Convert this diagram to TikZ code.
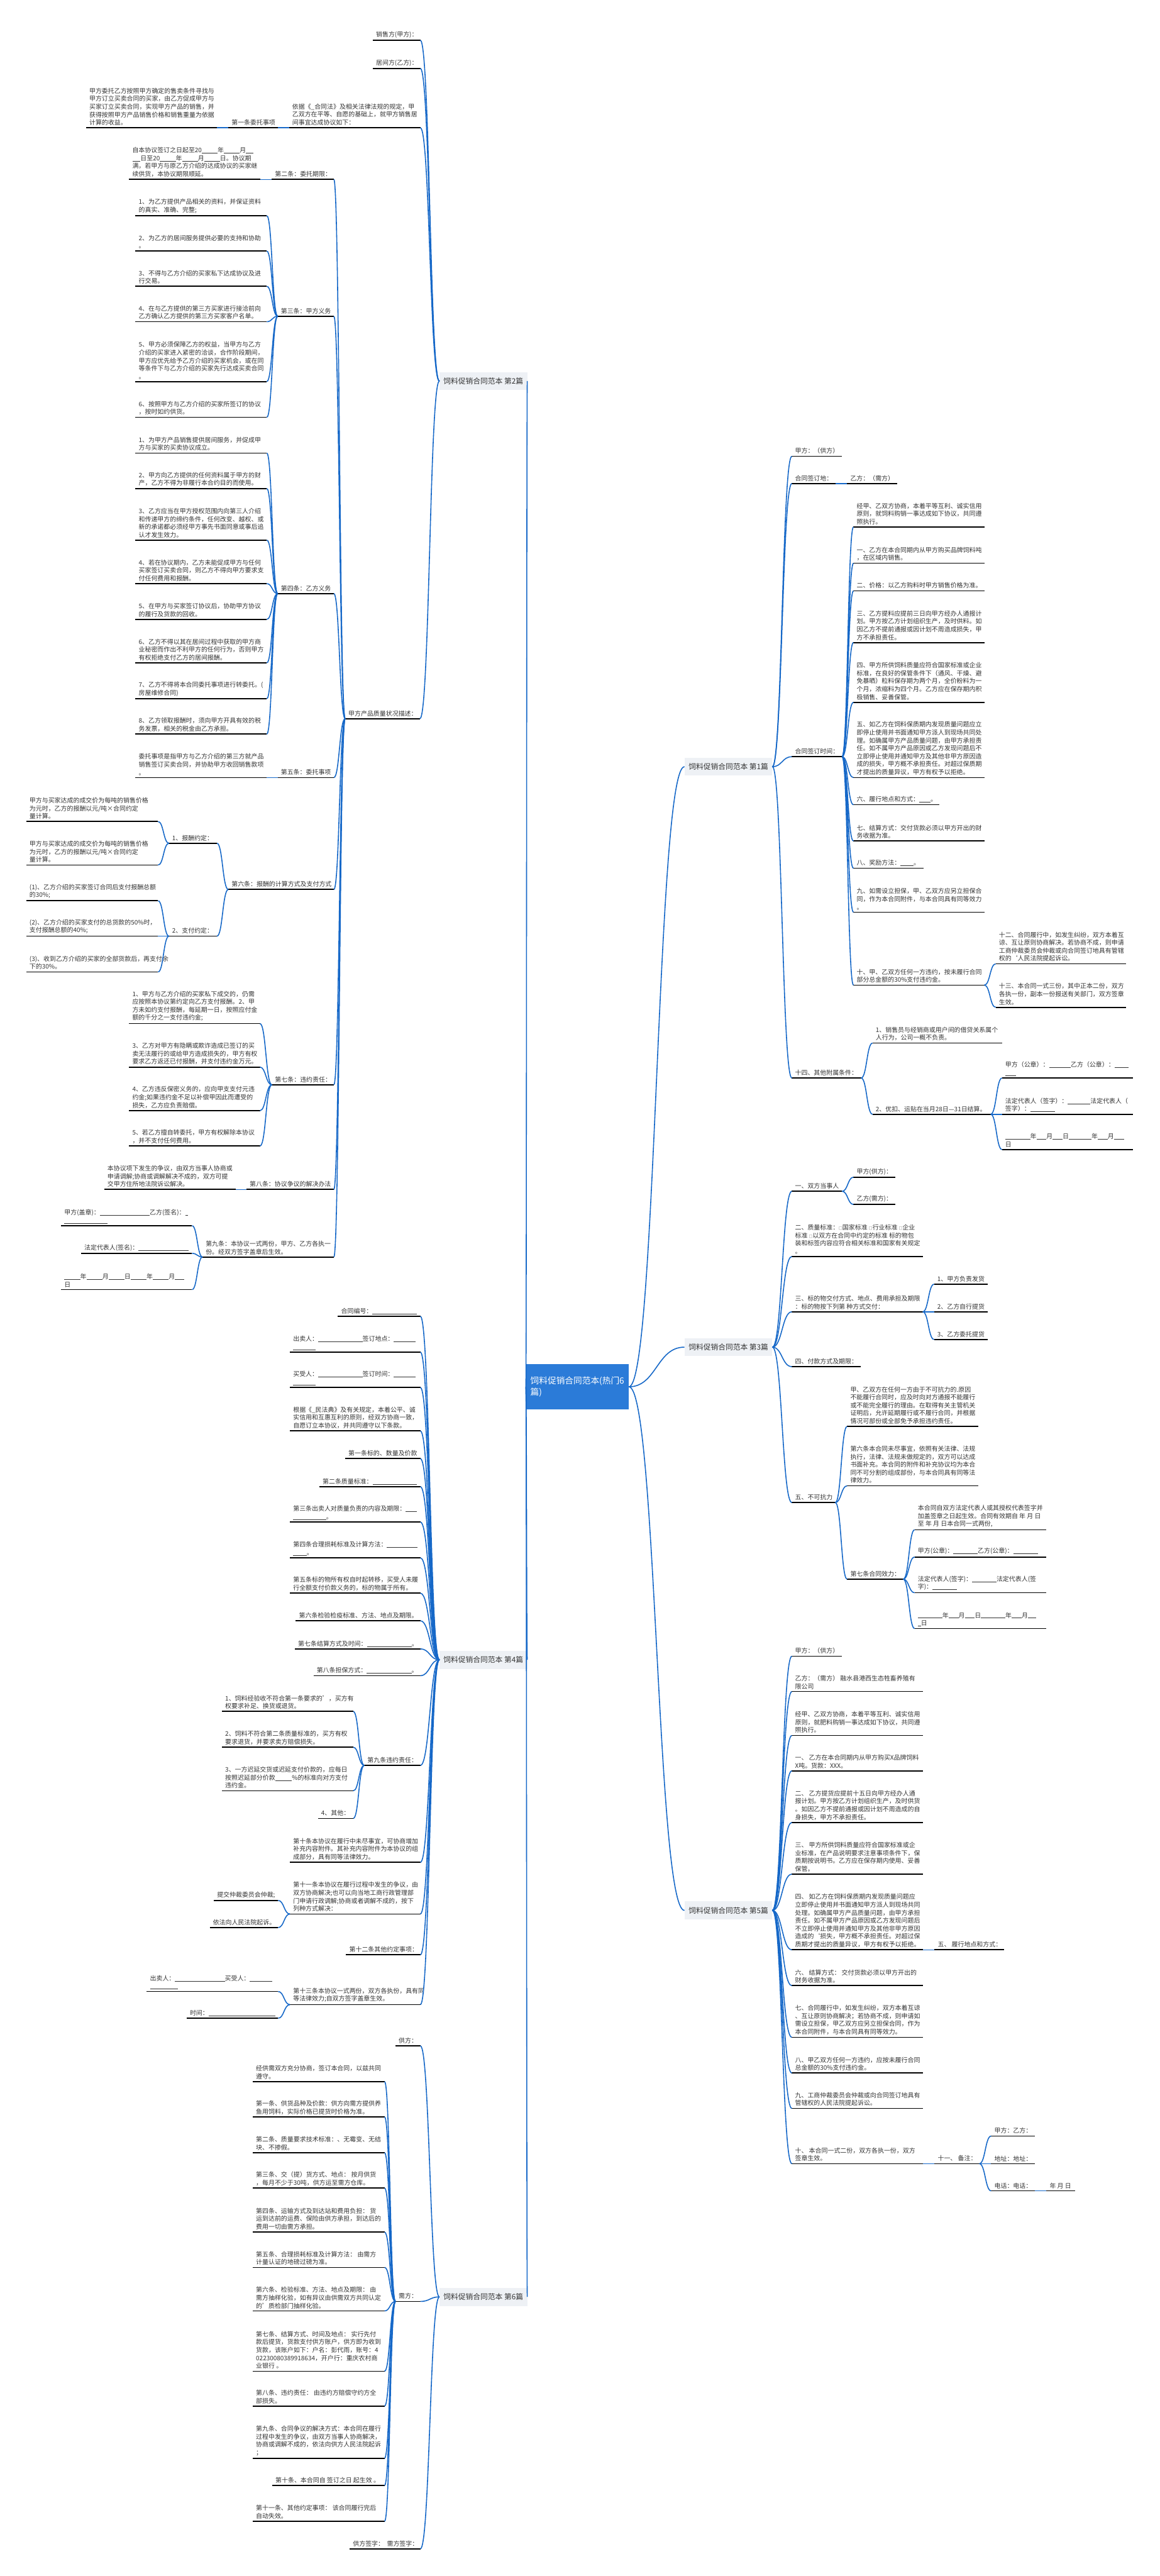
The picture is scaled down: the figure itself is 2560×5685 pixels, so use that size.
\documentclass[tikz,border=0pt]{standalone}
\usepackage{fontspec}
\setmainfont{Noto Sans CJK SC}
\usetikzlibrary{calc}
\definecolor{tg}{HTML}{333333}
\definecolor{cb}{HTML}{1668C8}
\definecolor{boxbg}{HTML}{EEF1F5}
\definecolor{rootc}{HTML}{2B7BD8}
\tikzset{
  txt/.style={inner sep=0pt, align=left, text=tg, font=\fontsize{13.8}{17.5}\selectfont},
  uline/.style={line width=2.4pt, black},
  conn/.style={line width=2.2pt, cb},
  branch/.style={fill=boxbg, text=tg, inner xsep=9pt, inner ysep=0pt, minimum height=40pt, font=\fontsize{16.3}{20}\selectfont},
  rootbox/.style={fill=rootc, text=white, inner xsep=10pt, minimum width=193pt, minimum height=100pt, align=left, font=\fontsize{19}{26}\selectfont}
}
\newcommand{\bl}[1]{\rule[-1.5pt]{#1pt}{0.9pt}}
\newcommand{\lf}[5]{%
  \coordinate (#1-l) at (#2,#4);
  \coordinate (#1-r) at (#3,#4);
  \node[txt, anchor=south west] (#1) at (#2+7,#4-5) {#5};
  \draw[uline] (#1-l) -- (#1-r);
}
\newcommand{\cn}[2]{\draw[conn] let \p1=(#1), \p2=(#2) in (#1) .. controls ({(\x1+\x2)/2},\y1) and ({(\x1+\x2)/2},\y2) .. (#2);}
\begin{document}
\begin{tikzpicture}[x=1pt,y=-1pt]
\useasboundingbox (0,0) rectangle (2560,5685);
\fill[white] (0,0) rectangle (2560,5685);

% ---------- root and branches ----------
\node[rootbox] (root) at (1274.5,3060.5) {饲料促销合同范本(热门6\\篇)};
\node[branch, anchor=east] (b2) at (1164,841) {饲料促销合同范本 第2篇};
\node[branch, anchor=east] (b4) at (1164,3663) {饲料促销合同范本 第4篇};
\node[branch, anchor=east] (b6) at (1164,5069) {饲料促销合同范本 第6篇};
\node[branch, anchor=west] (b1) at (1511,1692) {饲料促销合同范本 第1篇};
\node[branch, anchor=west] (b3) at (1511,2973) {饲料促销合同范本 第3篇};
\node[branch, anchor=west] (b5) at (1511,4216) {饲料促销合同范本 第5篇};
\cn{root.west}{b2.east}
\cn{root.west}{b4.east}
\cn{root.west}{b6.east}
\cn{root.east}{b1.west}
\cn{root.east}{b3.west}
\cn{root.east}{b5.west}

% ---------- 第2篇 ----------
\lf{a1}{823}{928}{89}{销售方(甲方)：}
\lf{a2}{823}{928}{151}{居间方(乙方)：}
\lf{a3}{638}{928}{282}{依据《\_合同法》及相关法律法规的规定，甲\\乙双方在平等、自愿的基础上，就甲方销售居\\间事宜达成协议如下：}
\lf{a31}{504}{613}{282}{第一条委托事项}
\lf{a311}{190}{479}{282}{甲方委托乙方按照甲方确定的售卖条件寻找与\\甲方订立买卖合同的买家，由乙方促成甲方与\\买家订立买卖合同，实现甲方产品的销售，并\\获得按照甲方产品销售价格和销售重量为依据\\计算的收益。}
\lf{a4}{762}{927}{1586}{甲方产品质量状况描述：}
\cn{b2.west}{a1-r}
\cn{b2.west}{a2-r}
\cn{b2.west}{a3-r}
\cn{b2.west}{a4-r}
\cn{a3-l}{a31-r}
\cn{a31-l}{a311-r}

\lf{c2}{600}{737}{396}{第二条：委托期限：}
\lf{c21}{285}{574}{396}{自本协议签订之日起至20\bl{35}年\bl{35}月\bl{16}\\\bl{18}日至20\bl{35}年\bl{35}月\bl{35}日。协议期\\满，若甲方与原乙方介绍的达成协议的买家继\\续供货，本协议期限顺延。}
\lf{c3}{613}{737}{698}{第三条：甲方义务}
\lf{c31}{299}{589}{476}{1、为乙方提供产品相关的资料，并保证资料\\的真实、准确、完整;}
\lf{c32}{299}{589}{554}{2、为乙方的居间服务提供必要的支持和协助\\。}
\lf{c33}{299}{589}{632}{3、不得与乙方介绍的买家私下达成协议及进\\行交易。}
\lf{c34}{299}{589}{710}{4、在与乙方提供的第三方买家进行接洽前向\\乙方确认乙方提供的第三方买家客户名单。}
\lf{c35}{299}{589}{842}{5、甲方必须保障乙方的权益，当甲方与乙方\\介绍的买家进入紧密的洽谈，合作阶段期间，\\甲方应优先给予乙方介绍的买家机会，或在同\\等条件下与乙方介绍的买家先行达成买卖合同\\。}
\lf{c36}{299}{589}{921}{6、按照甲方与乙方介绍的买家所签订的协议\\，按时如约供货。}
\lf{c4}{613}{737}{1310}{第四条：乙方义务}
\lf{c41}{299}{589}{1000}{1、为甲方产品销售提供居间服务，并促成甲\\方与买家的买卖协议成立。}
\lf{c42}{299}{589}{1078}{2、甲方向乙方提供的任何资料属于甲方的财\\产，乙方不得为非履行本合约目的而使用。}
\lf{c43}{299}{589}{1192}{3、乙方应当在甲方授权范围内向第三人介绍\\和传递甲方的缔约条件，任何改变、越权、或\\新的承诺都必须经甲方事先书面同意或事后追\\认才发生效力。}
\lf{c44}{299}{589}{1288}{4、若在协议期内，乙方未能促成甲方与任何\\买家签订买卖合同，则乙方不得向甲方要求支\\付任何费用和报酬。}
\lf{c45}{299}{589}{1367}{5、在甲方与买家签订协议后，协助甲方协议\\的履行及货款的回收。}
\lf{c46}{299}{589}{1463}{6、乙方不得以其在居间过程中获取的甲方商\\业秘密而作出不利甲方的任何行为，否则甲方\\有权拒绝支付乙方的居间报酬。}
\lf{c47}{299}{589}{1542}{7、乙方不得将本合同委托事项进行转委托。(\\房屋维修合同)}
\lf{c48}{299}{589}{1620}{8、乙方领取报酬时，须向甲方开具有效的税\\务发票，相关的税金由乙方承担。}
\lf{c5}{613}{737}{1716}{第五条：委托事项}
\lf{c51}{299}{589}{1716}{委托事项是指甲方与乙方介绍的第三方就产品\\销售签订买卖合同，并协助甲方收回销售款项\\。}
\lf{c6}{504}{737}{1963}{第六条：报酬的计算方式及支付方式}
\lf{c61}{373}{479}{1861}{1、报酬约定：}
\lf{c611}{58}{349}{1813}{甲方与买家达成的成交价为每吨的销售价格\\为元时，乙方的报酬以元/吨×合同约定\\量计算。}
\lf{c612}{58}{349}{1909}{甲方与买家达成的成交价为每吨的销售价格\\为元时，乙方的报酬以元/吨×合同约定\\量计算。}
\lf{c62}{373}{479}{2066}{2、支付约定：}
\lf{c621}{58}{349}{1988}{(1)、乙方介绍的买家签订合同后支付报酬总额\\的30\%;}
\lf{c622}{58}{349}{2066}{(2)、乙方介绍的买家支付的总货款的50\%时，\\支付报酬总额的40\%;}
\lf{c623}{58}{349}{2145}{(3)、收到乙方介绍的买家的全部货款后，再支付余\\下的30\%。}
\lf{c7}{600}{737}{2394}{第七条：违约责任：}
\lf{c71}{285}{574}{2259}{1、甲方与乙方介绍的买家私下成交的，仍需\\应按照本协议第约定向乙方支付报酬。2、甲\\方未如约支付报酬，每延期一日，按照应付金\\额的千分之一支付违约金;}
\lf{c72}{285}{574}{2355}{3、乙方对甲方有隐瞒或欺诈造成已签订的买\\卖无法履行的或给甲方造成损失的，甲方有权\\要求乙方返还已付报酬，并支付违约金万元。}
\lf{c73}{285}{574}{2451}{4、乙方违反保密义务的，应向甲支支付元违\\约金;如果违约金不足以补偿甲因此而遭受的\\损失，乙方应负责赔偿。}
\lf{c74}{285}{574}{2529}{5、若乙方擅自转委托，甲方有权解除本协议\\，并不支付任何费用。}
\lf{c8}{544}{737}{2625}{第八条：协议争议的解决办法}
\lf{c81}{230}{520}{2625}{本协议项下发生的争议，由双方当事人协商或\\申请调解;协商或调解解决不成的，双方可提\\交甲方住所地法院诉讼解决。}
\lf{c9}{447}{737}{2774}{第九条：本协议一式两份，甲方、乙方各执一\\份。经双方签字盖章后生效。}
\lf{c91}{135}{424}{2705}{甲方(盖章)：\bl{110}乙方(签名)：\bl{6}\\\bl{95}}
\lf{c92}{179}{424}{2766}{法定代表人(签名)：\bl{110}}
\lf{c93}{135}{424}{2846}{\bl{35}年\bl{35}月\bl{35}日\bl{35}年\bl{35}月\bl{20}\\日}
\cn{a4-l}{c2-r}
\cn{a4-l}{c3-r}
\cn{a4-l}{c4-r}
\cn{a4-l}{c5-r}
\cn{a4-l}{c6-r}
\cn{a4-l}{c7-r}
\cn{a4-l}{c8-r}
\cn{a4-l}{c9-r}
\cn{c2-l}{c21-r}
\cn{c3-l}{c31-r}\cn{c3-l}{c32-r}\cn{c3-l}{c33-r}\cn{c3-l}{c34-r}\cn{c3-l}{c35-r}\cn{c3-l}{c36-r}
\cn{c4-l}{c41-r}\cn{c4-l}{c42-r}\cn{c4-l}{c43-r}\cn{c4-l}{c44-r}\cn{c4-l}{c45-r}\cn{c4-l}{c46-r}\cn{c4-l}{c47-r}\cn{c4-l}{c48-r}
\cn{c5-l}{c51-r}
\cn{c6-l}{c61-r}\cn{c6-l}{c62-r}
\cn{c61-l}{c611-r}\cn{c61-l}{c612-r}
\cn{c62-l}{c621-r}\cn{c62-l}{c622-r}\cn{c62-l}{c623-r}
\cn{c7-l}{c71-r}\cn{c7-l}{c72-r}\cn{c7-l}{c73-r}\cn{c7-l}{c74-r}
\cn{c8-l}{c81-r}
\cn{c9-l}{c91-r}\cn{c9-l}{c92-r}\cn{c9-l}{c93-r}

% ---------- 第4篇 ----------
\lf{d1}{746}{928}{2905}{合同编号：\bl{98}}
\lf{d2}{640}{928}{2984}{出卖人：\bl{98}签订地点：\bl{48}\\\bl{49}}
\lf{d3}{640}{928}{3062}{买受人：\bl{98}签订时间：\bl{48}\\\bl{49}}
\lf{d4}{640}{928}{3158}{根据《\_民法典》及有关规定，本着公平、诚\\实信用和互惠互利的原则，经双方协商一致，\\自愿订立本协议，并共同遵守以下条款。}
\lf{d5}{762}{928}{3219}{第一条标的、数量及价款}
\lf{d6}{705}{928}{3281}{第二条质量标准：\bl{98}}
\lf{d7}{640}{928}{3359}{第三条出卖人对质量负责的内容及期限：\bl{24}\\\bl{73}。}
\lf{d8}{640}{928}{3438}{第四条合理损耗标准及计算方法：\bl{67}\\\bl{30}。}
\lf{d9}{640}{928}{3516}{第五条标的物所有权自时起转移，买受人未履\\行全额支付价款义务的，标的物属于所有。}
\lf{d10}{653}{928}{3577}{第六条检验检疫标准、方法、地点及期限。}
\lf{d11}{651}{928}{3639}{第七条结算方式及时间：\bl{99}。}
\lf{d12}{692}{928}{3698}{第八条担保方式：\bl{99}。}
\lf{d13}{804}{928}{3896}{第九条违约责任：}
\lf{d131}{490}{780}{3777}{1、饲料经验收不符合第一条要求的'，买方有\\权要求补足、换货或退货。}
\lf{d132}{490}{780}{3856}{2、饲料不符合第二条质量标准的，买方有权\\要求退货，并要求卖方赔偿损失。}
\lf{d133}{490}{780}{3952}{3、一方迟延交货或迟延支付价款的，应每日\\按照迟延部分价款\bl{37}\%的标准向对方支付\\违约金。}
\lf{d134}{702}{780}{4013}{4、其他：}
\lf{d14}{640}{928}{4110}{第十条本协议在履行中未尽事宜，可协商增加\\补充内容附件。其补充内容附件为本协议的组\\成部分，具有同等法律效力。}
\lf{d15}{640}{928}{4224}{第十一条本协议在履行过程中发生的争议，由\\双方协商解决;也可以向当地工商行政管理部\\门申请行政调解;协商或者调解不成的，按下\\列种方式解决：}
\lf{d151}{472}{614}{4194}{提交仲裁委员会仲裁;}
\lf{d152}{463}{614}{4254}{依法向人民法院起诉。}
\lf{d16}{764}{928}{4314}{第十二条其他约定事项：}
\lf{d17}{640}{928}{4424}{第十三条本协议一式两份，双方各执份，具有同\\等法律效力;自双方签字盖章生效。}
\lf{d171}{324}{614}{4395}{出卖人：\bl{110}买受人：\bl{50}\\\bl{61}}
\lf{d172}{412}{614}{4454}{时间：\bl{147}}
\cn{b4.west}{d1-r}\cn{b4.west}{d2-r}\cn{b4.west}{d3-r}\cn{b4.west}{d4-r}\cn{b4.west}{d5-r}\cn{b4.west}{d6-r}
\cn{b4.west}{d7-r}\cn{b4.west}{d8-r}\cn{b4.west}{d9-r}\cn{b4.west}{d10-r}\cn{b4.west}{d11-r}\cn{b4.west}{d12-r}
\cn{b4.west}{d13-r}\cn{b4.west}{d14-r}\cn{b4.west}{d15-r}\cn{b4.west}{d16-r}\cn{b4.west}{d17-r}
\cn{d13-l}{d131-r}\cn{d13-l}{d132-r}\cn{d13-l}{d133-r}\cn{d13-l}{d134-r}
\cn{d15-l}{d151-r}\cn{d15-l}{d152-r}
\cn{d17-l}{d171-r}\cn{d17-l}{d172-r}

% ---------- 第6篇 ----------
\lf{e1}{873}{928}{4515}{供方：}
\lf{e2}{873}{928}{5079}{需方：}
\lf{e3}{772}{928}{5625}{供方签字：\ \ 需方签字：}
\lf{e21}{558}{849}{4594}{经供需双方充分协商，签订本合同，以兹共同\\遵守。}
\lf{e22}{558}{849}{4672}{第一条、供货品种及价款：供方向需方提供养\\鱼用饲料，实际价格已提货时价格为准。}
\lf{e23}{558}{849}{4751}{第二条、质量要求技术标准：、无霉变、无结\\块、不掺假。}
\lf{e24}{558}{849}{4829}{第三条、交（提）货方式、地点： 按月供货\\，每月不少于30吨，供方运至需方仓库。}
\lf{e25}{558}{849}{4926}{第四条、运输方式及到达站和费用负担： 货\\运到达前的运费、保险由供方承担，到达后的\\费用一切由需方承担。}
\lf{e26}{558}{849}{5004}{第五条、合理损耗标准及计算方法： 由需方\\计量认证的地磅过磅为准。}
\lf{e27}{558}{849}{5100}{第六条、检验标准、方法、地点及期限： 由\\需方抽样化验，如有异议由供需双方共同认定\\的'质检部门抽样化验。}
\lf{e28}{558}{849}{5233}{第七条、结算方式、时间及地点： 实行先付\\款后提货，货款支付供方账户，供方即为收到\\货款，该账户如下：户名：彭代雨，账号：4\\02230080389918634，开户行：重庆农村商\\业银行 。}
\lf{e29}{558}{849}{5310}{第八条、违约责任： 由违约方赔偿守约方全\\部损失。}
\lf{e30}{558}{849}{5425}{第九条、合同争议的解决方式：本合同在履行\\过程中发生的争议，由双方当事人协商解决，\\协商或调解不成的，依法向供方人民法院起诉\\；}
\lf{e31}{601}{849}{5485}{第十条、本合同自 签订之日 起生效 。}
\lf{e32}{558}{849}{5564}{第十一条、其他约定事项： 该合同履行完后\\自动失效。}
\cn{b6.west}{e1-r}\cn{b6.west}{e2-r}\cn{b6.west}{e3-r}
\cn{e2-l}{e21-r}\cn{e2-l}{e22-r}\cn{e2-l}{e23-r}\cn{e2-l}{e24-r}\cn{e2-l}{e25-r}\cn{e2-l}{e26-r}
\cn{e2-l}{e27-r}\cn{e2-l}{e28-r}\cn{e2-l}{e29-r}\cn{e2-l}{e30-r}\cn{e2-l}{e31-r}\cn{e2-l}{e32-r}

% ---------- 第1篇 ----------
\lf{f1}{1748}{1859}{1007}{甲方：（供方）}
\lf{f2}{1748}{1845}{1067}{合同签订地：}
\lf{f21}{1870}{1980}{1067}{乙方：（需方）}
\lf{f3}{1748}{1859}{1670}{合同签订时间：}
\lf{f31}{1884}{2173}{1163}{经甲、乙双方协商，本着平等互利、诚实信用\\原则，就饲料购销一事达成如下协议，共同遵\\照执行。}
\lf{f32}{1884}{2173}{1243}{一、乙方在本合同期内从甲方购买品牌饲料吨\\，在区域内销售。}
\lf{f33}{1884}{2173}{1304}{二、价格：以乙方购料时甲方销售价格为准。}
\lf{f34}{1884}{2173}{1418}{三、乙方提料应提前三日向甲方经办人通报计\\划。甲方按乙方计划组织生产，及时供料。如\\因乙方不提前通报或因计划不周造成损失，甲\\方不承担责任。}
\lf{f35}{1884}{2173}{1550}{四、甲方所供饲料质量应符合国家标准或企业\\标准，在良好的保管条件下（通风、干燥、避\\免暴晒）粒料保存期为两个月，全价粉料为一\\个月，浓缩料为四个月。乙方应在保存期内积\\极销售、妥善保管。}
\lf{f36}{1884}{2173}{1716}{五、如乙方在饲料保质期内发现质量问题应立\\即停止使用并书面通知甲方派人到现场共同处\\理。如确属甲方产品质量问题，由甲方承担责\\任。如不属甲方产品原因或乙方发现问题后不\\立即停止使用并通知甲方及其他非甲方原因造\\成的损失，甲方概不承担责任。对超过保质期\\才提出的质量异议，甲方有权予以拒绝。}
\lf{f37}{1884}{2073}{1776}{六、履行地点和方式：\bl{25}。}
\lf{f38}{1884}{2173}{1856}{七、结算方式：交付货款必须以甲方开出的财\\务收据为准。}
\lf{f39}{1884}{2039}{1916}{八、奖励方法：\bl{29}。}
\lf{f310}{1884}{2173}{2013}{九、如需设立担保，甲、乙双方应另立担保合\\同，作为本合同附件，与本合同具有同等效力\\。}
\lf{f311}{1884}{2173}{2174}{十、甲、乙双方任何一方违约，按未履行合同\\部分总金额的30\%支付违约金。}
\lf{f3111}{2198}{2486}{2127}{十二、合同履行中，如发生纠纷，双方本着互\\谅、互让原则协商解决。若协商不成，则申请\\工商仲裁委员会仲裁或向合同签订地具有管辖\\权的`人民法院提起诉讼。}
\lf{f3112}{2198}{2486}{2223}{十三、本合同一式三份，其中正本二份，双方\\各执一份，副本一份报送有关部门，双方签章\\生效。}
\lf{f4}{1748}{1901}{2379}{十四、其他附属条件：}
\lf{f41}{1926}{2213}{2302}{1、销售员与经销商或用户间的借贷关系属个\\人行为，公司一概不负责。}
\lf{f42}{1926}{2187}{2459}{2、优扣、运贴在当月28日—31日结算。}
\lf{f421}{2212}{2501}{2379}{甲方（公章）：\bl{48}乙方（公章）：\bl{31}\\\bl{23}}
\lf{f422}{2212}{2501}{2459}{法定代表人（签字）：\bl{50}法定代表人（\\签字）：\bl{55}}
\lf{f423}{2212}{2501}{2537}{\bl{55}年\bl{22}月\bl{22}日\bl{50}年\bl{22}月\bl{22}\\日}
\cn{b1.east}{f1-l}\cn{b1.east}{f2-l}\cn{b1.east}{f3-l}\cn{b1.east}{f4-l}
\cn{f2-r}{f21-l}
\cn{f3-r}{f31-l}\cn{f3-r}{f32-l}\cn{f3-r}{f33-l}\cn{f3-r}{f34-l}\cn{f3-r}{f35-l}\cn{f3-r}{f36-l}
\cn{f3-r}{f37-l}\cn{f3-r}{f38-l}\cn{f3-r}{f39-l}\cn{f3-r}{f310-l}\cn{f3-r}{f311-l}
\cn{f311-r}{f3111-l}\cn{f311-r}{f3112-l}
\cn{f4-r}{f41-l}\cn{f4-r}{f42-l}
\cn{f42-r}{f421-l}\cn{f42-r}{f422-l}\cn{f42-r}{f423-l}

% ---------- 第3篇 ----------
\lf{g1}{1748}{1859}{2629}{一、双方当事人}
\lf{g11}{1884}{1976}{2598}{甲方(供方)：}
\lf{g12}{1884}{1976}{2658}{乙方(需方)：}
\lf{g2}{1748}{2037}{2773}{二、质量标准：{\fontsize{8}{8}\selectfont □}国家标准 {\fontsize{8}{8}\selectfont □}行业标准 {\fontsize{8}{8}\selectfont □}企业\\标准 {\fontsize{8}{8}\selectfont □}以双方在合同中约定的标准 标的物包\\装和标签内容应符合相关标准和国家有关规定\\。}
\lf{g3}{1748}{2037}{2895}{三、标的物交付方式、地点、费用承担及期限\\：标的物按下列第 种方式交付：}
\lf{g31}{2062}{2181}{2834}{1、甲方负责发货}
\lf{g32}{2062}{2181}{2895}{2、乙方自行提货}
\lf{g33}{2062}{2181}{2956}{3、乙方委托提货}
\lf{g4}{1748}{1900}{3016}{四、付款方式及期限：}
\lf{g5}{1748}{1844}{3316}{五、不可抗力}
\lf{g51}{1870}{2159}{3148}{甲、乙双方在任何一方由于不可抗力的.原因\\不能履行合同时，应及时向对方通报不能履行\\或不能完全履行的理由。在取得有关主管机关\\证明后，允许延期履行或不履行合同，并根据\\情况可部份或全部免予承担违约责任。}
\lf{g52}{1870}{2159}{3279}{第六条本合同未尽事宜，依照有关法律、法规\\执行，法律、法规未做规定的，双方可以达成\\书面补充。本合同的附件和补充协议均为本合\\同不可分割的组成部份，与本合同具有同等法\\律效力。}
\lf{g53}{1870}{1994}{3485}{第七条合同效力：}
\lf{g531}{2019}{2309}{3376}{本合同自双方法定代表人或其授权代表签字并\\加盖签章之日起生效。合同有效期自 年 月 日\\至 年 月 日本合同一式两份,}
\lf{g532}{2019}{2309}{3436}{甲方(公章)：\bl{54}乙方(公章)：\bl{55}}
\lf{g533}{2019}{2309}{3515}{法定代表人(签字)：\bl{54}法定代表人(签\\字)：\bl{54}}
\lf{g534}{2019}{2309}{3594}{\bl{54}年\bl{22}月\bl{22}日\bl{54}年\bl{22}月\bl{18}\\\bl{7}日}
\cn{b3.east}{g1-l}\cn{b3.east}{g2-l}\cn{b3.east}{g3-l}\cn{b3.east}{g4-l}\cn{b3.east}{g5-l}
\cn{g1-r}{g11-l}\cn{g1-r}{g12-l}
\cn{g3-r}{g31-l}\cn{g3-r}{g32-l}\cn{g3-r}{g33-l}
\cn{g5-r}{g51-l}\cn{g5-r}{g52-l}\cn{g5-r}{g53-l}
\cn{g53-r}{g531-l}\cn{g53-r}{g532-l}\cn{g53-r}{g533-l}\cn{g53-r}{g534-l}

% ---------- 第5篇 ----------
\lf{h1}{1748}{1859}{3655}{甲方：（供方）}
\lf{h2}{1748}{2037}{3733}{乙方：（需方） 融水县港西生态牲畜养殖有\\限公司}
\lf{h3}{1748}{2037}{3830}{经甲、乙双方协商，本着平等互利、诚实信用\\原则，就肥料购销一事达成如下协议，共同遵\\照执行。}
\lf{h4}{1748}{2037}{3908}{一、 乙方在本合同期内从甲方购买X品牌饲料\\X吨。货款：XXX。}
\lf{h5}{1748}{2037}{4022}{二、 乙方提货应提前十五日向甲方经办人通\\报计划。甲方按乙方计划组织生产，及时供货\\。如因乙方不提前通报或因计划不周造成的自\\身损失，甲方不承担责任。}
\lf{h6}{1748}{2037}{4136}{三、 甲方所供饲料质量应符合国家标准或企\\业标准，在产品说明要求注意事项条件下，保\\质期按说明书。乙方应在保存期内使用、妥善\\保管。}
\lf{h7}{1748}{2037}{4303}{四、 如乙方在饲料保质期内发现质量问题应\\立即停止使用并书面通知甲方派人到现场共同\\处理。如确属甲方产品质量问题，由甲方承担\\责任。如不属甲方产品原因或乙方发现问题后\\不立即停止使用并通知甲方及其他非甲方原因\\造成的`损失，甲方概不承担责任。对超过保\\质期才提出的质量异议，甲方有权予以拒绝。}
\lf{h71}{2063}{2217}{4303}{五、 履行地点和方式：}
\lf{h8}{1748}{2037}{4382}{六、 结算方式： 交付货款必须以甲方开出的\\财务收据为准。}
\lf{h9}{1748}{2037}{4496}{七、合同履行中，如发生纠纷，双方本着互谅\\、互让原则协商解决；若协商不成，则申请如\\需设立担保，甲乙双方应另立担保合同，作为\\本合同附件，与本合同具有同等效力。}
\lf{h10}{1748}{2037}{4575}{八、甲乙双方任何一方违约，应按未履行合同\\总金额的30\%支付违约金。}
\lf{h11}{1748}{2037}{4653}{九、工商仲裁委员会仲裁或向合同签订地具有\\管辖权的人民法院提起诉讼。}
\lf{h12}{1748}{2037}{4775}{十、 本合同一式二份，双方各执一份，双方\\签章生效。}
\lf{h121}{2063}{2162}{4775}{十一、 备注：}
\lf{h1211}{2188}{2284}{4714}{甲方：乙方：}
\lf{h1212}{2188}{2284}{4775}{地址：地址：}
\lf{h1213}{2188}{2284}{4835}{电话：电话：}
\lf{h12131}{2310}{2374}{4835}{年 月 日}
\cn{b5.east}{h1-l}\cn{b5.east}{h2-l}\cn{b5.east}{h3-l}\cn{b5.east}{h4-l}\cn{b5.east}{h5-l}\cn{b5.east}{h6-l}
\cn{b5.east}{h7-l}\cn{b5.east}{h8-l}\cn{b5.east}{h9-l}\cn{b5.east}{h10-l}\cn{b5.east}{h11-l}\cn{b5.east}{h12-l}
\cn{h7-r}{h71-l}
\cn{h12-r}{h121-l}
\cn{h121-r}{h1211-l}\cn{h121-r}{h1212-l}\cn{h121-r}{h1213-l}
\cn{h1213-r}{h12131-l}
\end{tikzpicture}
\end{document}
